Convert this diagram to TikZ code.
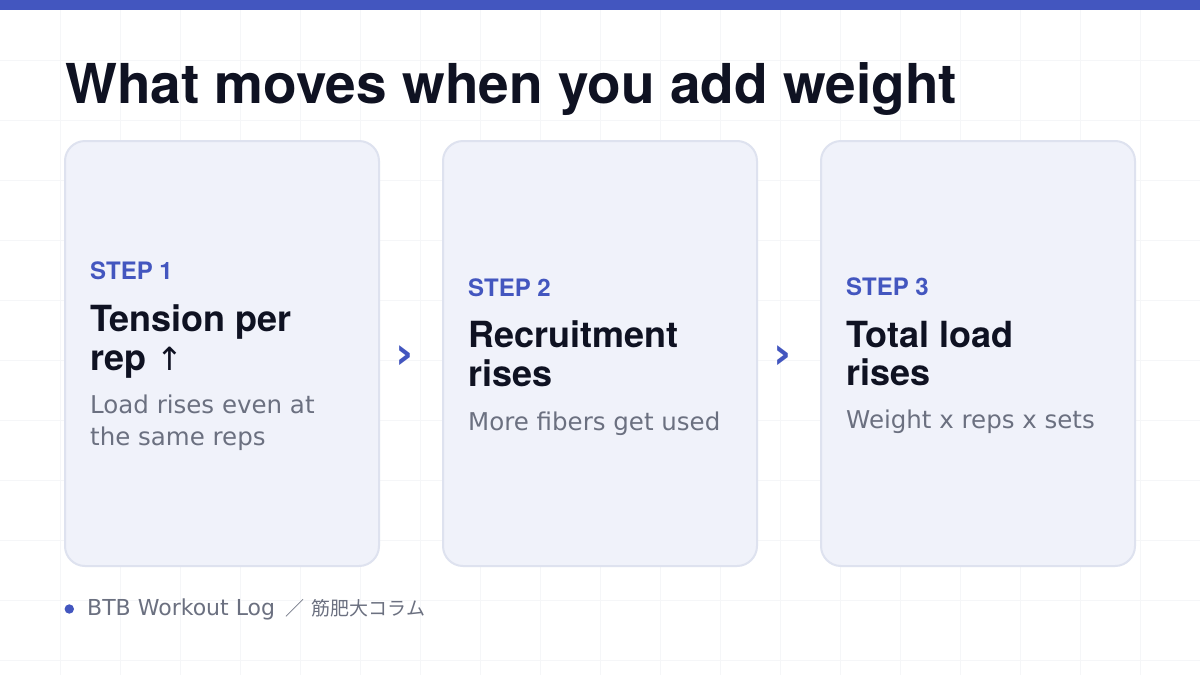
\documentclass[tikz,border=0pt]{standalone}
\usepackage{fontspec}
\setmainfont{TeX Gyre Heros}
\newfontfamily\bodyfont{DejaVu Sans}
\newfontfamily\cjkfont{Noto Sans CJK JP}
\usetikzlibrary{positioning}

\definecolor{accent}{HTML}{4356BF}
\definecolor{ink}{HTML}{0F1222}
\definecolor{muted}{HTML}{6B7080}
\definecolor{cardfill}{HTML}{F0F2FA}
\definecolor{cardline}{HTML}{DEE2EF}
\definecolor{gridline}{HTML}{F5F6F8}

\begin{document}
\begin{tikzpicture}[x=1pt, y=-1pt,
        card/.style={draw=cardline, line width=2pt, fill=cardfill, rounded corners=20pt,
            minimum width=314pt, minimum height=425pt, inner sep=0pt},
        steptag/.style={anchor=base west, inner sep=0pt, text=accent,
            font=\fontsize{24}{28}\selectfont\bfseries},
        headline/.style={anchor=base west, inner sep=0pt, text=ink,
            font=\fontsize{36}{39}\selectfont\bfseries},
        note/.style={anchor=base west, inner sep=0pt, text=muted,
            font=\bodyfont\fontsize{24.5}{32}\selectfont},
        chev/.style={inner sep=0pt, text=accent, yshift=-4pt,
            font=\bodyfont\fontsize{44}{46}\selectfont\bfseries}]
    \useasboundingbox (0,0) rectangle (1200,675);
    \fill[white] (0,0) rectangle (1200,675);
    % background grid
    \foreach \gx in {60,120,...,1140} \draw[gridline, line width=1pt] (\gx,0) -- (\gx,675);
    \foreach \gy in {60,120,...,660} \draw[gridline, line width=1pt] (0,\gy) -- (1200,\gy);
    \fill[accent] (0,0) rectangle (1200,10);

    \node[anchor=base west, inner sep=0pt, text=ink,
        font=\fontsize{55}{60}\selectfont\bfseries] (title) at (65,103) {What moves when you add weight};

    \node[card] (c1) at (222,353.5) {};
    \node[card] (c2) at (600,353.5) {};
    \node[card] (c3) at (978,353.5) {};

    \node[chev, right=15pt of c1] (ch1) {›};
    \node[chev, right=15pt of c2] (ch2) {›};

    \node[steptag] (s1) at (90,279) {STEP 1};
    \node[headline] (h1a) at (90,331) {Tension per};
    \node[headline] (h1b) at (90,370) {rep {\bodyfont\mdseries\fontsize{32}{39}\selectfont ↑}};
    \node[note] (n1a) at (90,413) {Load rises even at};
    \node[note] (n1b) at (90,445) {the same reps};

    \node[steptag] (s2) at (468,296) {STEP 2};
    \node[headline] (h2a) at (468,347) {Recruitment};
    \node[headline] (h2b) at (468,386) {rises};
    \node[note] (n2) at (468,430) {More fibers get used};

    \node[steptag] (s3) at (846,295) {STEP 3};
    \node[headline] (h3a) at (846,347) {Total load};
    \node[headline] (h3b) at (846,385) {rises};
    \node[note] (n3) at (846,428) {Weight x reps x sets};

    \node[circle, fill=accent, minimum size=9.4pt, inner sep=0pt] (dot) at (69.3,609) {};
    \node[anchor=base west, inner sep=0pt, text=muted, font=\bodyfont\fontsize{22}{26}\selectfont] (foot) at (87,615)
        {BTB Workout Log {\cjkfont\fontsize{19}{24}\selectfont \,／\, 筋肥大コラム}};
\end{tikzpicture}
\end{document}
